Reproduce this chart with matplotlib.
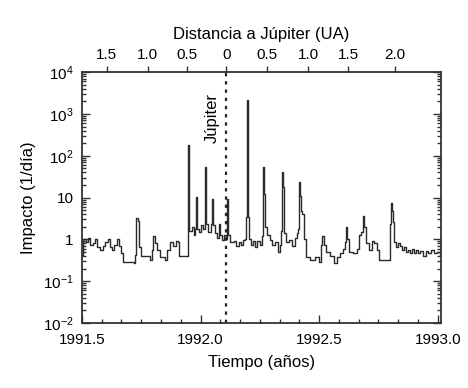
import numpy as np
import matplotlib
matplotlib.use("Agg")
import matplotlib.pyplot as plt
from matplotlib.ticker import LogLocator, FixedLocator, NullFormatter

plt.rcParams['font.family'] = ['Liberation Sans', 'DejaVu Sans']
plt.rcParams['mathtext.fontset'] = 'custom'
plt.rcParams['mathtext.rm'] = 'Liberation Sans'
plt.rcParams['mathtext.it'] = 'Liberation Sans'

# tiempo (anos) y tasa de impactos (1/dia)
years = [1991.500, 1991.504, 1991.517, 1991.525, 1991.534, 1991.546, 1991.555, 1991.563,
         1991.576, 1991.589, 1991.597, 1991.610, 1991.618, 1991.627, 1991.635, 1991.648,
         1991.656, 1991.665, 1991.673, 1991.719, 1991.724, 1991.728, 1991.736, 1991.741,
         1991.749, 1991.787, 1991.795, 1991.800, 1991.808, 1991.816, 1991.829, 1991.850,
         1991.859, 1991.871, 1991.884, 1991.897, 1991.905, 1991.909, 1991.943, 1991.947,
         1991.949, 1991.951, 1991.964, 1991.973, 1991.977, 1991.981, 1991.985, 1991.994,
         1992.002, 1992.011, 1992.019, 1992.023, 1992.032, 1992.044, 1992.049, 1992.053,
         1992.061, 1992.070, 1992.078, 1992.082, 1992.091, 1992.099, 1992.108, 1992.112,
         1992.116, 1992.124, 1992.141, 1992.150, 1992.162, 1992.171, 1992.179, 1992.188,
         1992.192, 1992.196, 1992.200, 1992.205, 1992.213, 1992.222, 1992.230, 1992.238,
         1992.251, 1992.259, 1992.264, 1992.268, 1992.272, 1992.281, 1992.293, 1992.302,
         1992.314, 1992.327, 1992.335, 1992.340, 1992.344, 1992.348, 1992.352, 1992.361,
         1992.373, 1992.386, 1992.399, 1992.407, 1992.411, 1992.416, 1992.420, 1992.424,
         1992.428, 1992.437, 1992.445, 1992.462, 1992.483, 1992.500, 1992.508, 1992.513,
         1992.521, 1992.530, 1992.546, 1992.563, 1992.576, 1992.589, 1992.601, 1992.610,
         1992.614, 1992.618, 1992.627, 1992.643, 1992.660, 1992.669, 1992.677, 1992.686,
         1992.690, 1992.699, 1992.711, 1992.724, 1992.732, 1992.745, 1992.753, 1992.795,
         1992.800, 1992.804, 1992.808, 1992.812, 1992.816, 1992.825, 1992.833, 1992.842,
         1992.850, 1992.859, 1992.867, 1992.876, 1992.884, 1992.892, 1992.900, 1992.909,
         1992.918, 1992.926, 1992.938, 1992.951, 1992.959, 1992.973, 1992.985, 1992.998,
         1993.008]
impacts = [0.43, 1.0, 0.85, 1.1, 0.75, 0.8, 1.0, 0.65,
           0.57, 0.7, 0.85, 1.0, 0.65, 0.57, 0.75, 1.0,
           0.68, 0.48, 0.29, 0.28, 0.43, 3.2, 2.7, 0.64,
           0.39, 0.33, 0.57, 1.2, 0.8, 0.57, 0.37, 0.33,
           0.57, 0.85, 0.7, 0.9, 0.85, 0.39, 0.39, 1.3,
           180, 1.55, 1.95, 1.3, 1.75, 10.4, 1.75, 1.5,
           2.2, 1.75, 55, 2.3, 1.5, 2.3, 9.3, 2.2,
           1.4, 1.1, 2.3, 1.25, 0.95, 1.25, 1.0, 9.3,
           1.25, 0.85, 0.9, 0.68, 0.85, 0.75, 0.95, 1.0,
           3.4, 2200, 3.4, 1.0, 0.75, 0.9, 0.64, 0.9,
           0.72, 1.2, 55, 12, 1.95, 1.25, 0.95, 0.72,
           0.85, 0.5, 0.75, 1.55, 42, 18, 1.4, 0.85,
           0.95, 0.68, 1.1, 1.4, 1.75, 24, 11, 4.8,
           4.0, 1.0, 0.37, 0.33, 0.37, 0.29, 0.75, 1.2,
           0.75, 0.5, 0.39, 0.28, 0.37, 0.48, 0.6, 0.85,
           2.0, 1.0, 0.5, 0.48, 0.6, 1.3, 1.5, 3.6,
           2.0, 0.8, 0.57, 0.9, 0.8, 0.57, 0.33, 0.33,
           2.3, 7.4, 4.8, 2.6, 0.85, 0.64, 0.8, 0.68,
           0.57, 0.64, 0.5, 0.57, 0.48, 0.6, 0.46, 0.57,
           0.48, 0.54, 0.41, 0.54, 0.46, 0.57, 0.46, 0.5,
           0.43]

jupiter_time = 1992.108
dist_ticks = [1991.605, 1991.778, 1991.943, 1992.108, 1992.281, 1992.454, 1992.622, 1992.821]
dist_labels = ['1.5', '1.0', '0.5', '0', '0.5', '1.0', '1.5', '2.0']
year_ticks = [1991.5, 1992.0, 1992.5, 1993.0]

fig = plt.figure(figsize=(4.68, 3.88), dpi=100)
ax = fig.add_axes([0.175, 0.1675, 0.767, 0.6465])

ax.plot(years, impacts, color='#2a2a2a', lw=1.0, drawstyle='steps-post')
ax.axvline(jupiter_time, color='#222222', lw=1.6, linestyle=(0, (1.5, 2.2)))
ax.text(jupiter_time - 0.057, 800, 'Júpiter', rotation=90, ha='center', va='center', fontsize=12)

ax.set_yscale('log')
ax.set_ylim(1e-2, 1e4)
ax.set_xlim(1991.5, 1993.013)

ax.set_xticks(year_ticks)
ax.set_xticklabels(['1991.5', '1992.0', '1992.5', '1993.0'])
ax.xaxis.set_minor_locator(FixedLocator([1991.5 + k / 12 for k in range(19)]))
ax.set_yticks([1e-2, 1e-1, 1, 10, 1e2, 1e3, 1e4])
ax.set_yticklabels(['10$^{-2}$', '10$^{-1}$', '1', '10', '10$^{2}$', '10$^{3}$', '10$^{4}$'])
ax.yaxis.set_minor_locator(LogLocator(base=10, subs=np.arange(2, 10)))
ax.yaxis.set_minor_formatter(NullFormatter())

ax.tick_params(which='both', direction='in', left=True, right=True, top=True, bottom=True,
               labelsize=11, width=1.0, color='#333333')
ax.tick_params(which='major', length=6)
ax.tick_params(which='minor', length=3)
ax.tick_params(axis='x', which='major', pad=7)
ax.tick_params(axis='y', which='major', pad=6)
for s in ax.spines.values():
    s.set_linewidth(1.3)
    s.set_color('#333333')

ax.set_xlabel('Tiempo (años)', fontsize=12, labelpad=6)
ax.set_ylabel('Impacto (1/día)', fontsize=12, labelpad=5)

ax2 = ax.twiny()
ax2.set_xlim(ax.get_xlim())
ax2.set_xticks(dist_ticks)
ax2.set_xticklabels(dist_labels)
ax2.tick_params(axis='x', direction='out', length=4, width=1.0, labelsize=11, pad=3, color='#333333')
ax2.set_xlabel('Distancia a Júpiter (UA)', fontsize=12, labelpad=7)
for s in ax2.spines.values():
    s.set_visible(False)

fig.savefig('out.png', dpi=100)
